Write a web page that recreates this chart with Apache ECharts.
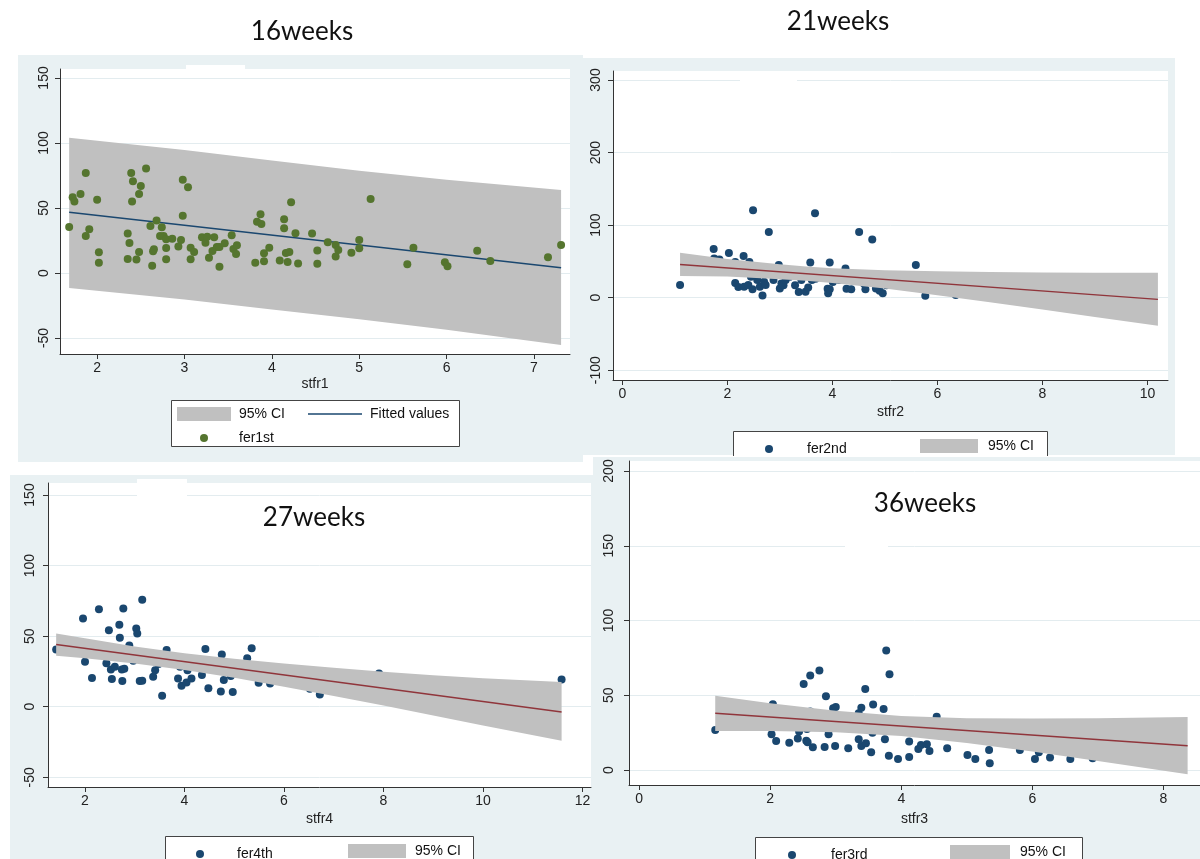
<!DOCTYPE html>
<html>
<head>
<meta charset="utf-8">
<title>fer vs stfr</title>
<script src="https://cdn.jsdelivr.net/npm/echarts@6/dist/echarts.min.js"></script>
<style>
html, body { margin: 0; padding: 0; background: #fff; }
#main { width: 1200px; height: 859px; }
</style>
</head>
<body>
<div id="main"></div>
<script>
// ---- 16 weeks : fer1st vs stfr1 ----
var stfr1 = [1.68,1.72,1.74,1.81,1.87,1.87,1.91,2.00,2.02,2.02,
  2.35,2.37,2.35,2.39,2.41,2.40,2.45,2.48,2.50,2.48,
  2.56,2.61,2.63,2.64,2.65,2.68,2.72,2.74,2.76,2.79,
  2.79,2.79,2.86,2.93,2.96,2.98,2.98,3.04,3.07,3.07,
  3.11,3.20,3.24,3.26,3.28,3.32,3.34,3.37,3.40,3.40,
  3.46,3.54,3.56,3.59,3.60,3.81,3.83,3.88,3.87,3.91,
  3.91,3.97,4.09,4.14,4.14,4.16,4.18,4.20,4.22,4.27,
  4.30,4.46,4.52,4.52,4.64,4.73,4.76,4.73,4.91,5.00,
  5.00,5.13,5.55,5.62,5.98,6.01,6.35,6.50,7.16,7.31];
var fer1st = [35.4,58.2,54.9,60.8,76.9,28.5,33.6,56.4,15.9,7.9,
  30.3,23.1,10.8,76.9,70.5,54.9,10.3,16.2,66.9,60.8,
  80.3,36.2,5.6,16.7,18.2,40.3,28.5,35.1,28.5,25.9,
  19.2,10.5,26.4,20.3,25.4,71.8,44.1,65.9,19.5,10.5,
  16.2,27.4,23.3,27.9,11.8,16.9,27.4,20.0,4.9,20.0,
  22.8,29.0,18.5,14.6,21.3,7.9,39.5,37.7,45.1,15.1,
  9.0,19.5,9.7,41.3,34.4,15.4,8.5,16.2,54.4,30.5,
  7.4,30.3,17.4,7.2,23.6,21.5,17.7,12.6,15.6,25.4,
  19.0,56.9,6.7,19.5,8.2,5.1,17.2,9.2,12.1,21.5];
var fit1X = [1.68, 7.31];
var fit1Y = [46.7, 4.1];
var ci1X  = [1.68, 3, 4, 5, 6, 7.31];
var ci1Lo = [-11.5, -20.3, -28.0, -35.6, -43.6, -55.4];
var ci1Hi = [104.1, 94.6, 86.5, 78.7, 71.8, 63.8];

// ---- 21 weeks : fer2nd vs stfr2 ----
var stfr2 = [1.10,1.74,1.75,1.85,2.03,2.15,2.21,2.15,2.31,2.32,
  2.40,2.42,2.48,2.49,2.45,2.57,2.62,2.67,2.70,2.73,
  2.79,2.88,2.98,3.00,3.03,3.07,3.11,3.29,3.36,3.41,
  3.49,3.54,3.58,3.61,3.67,3.68,3.91,3.92,3.95,3.95,
  4.01,4.13,4.25,4.27,4.36,4.51,4.60,4.63,4.76,4.83,
  4.90,4.96,5.03,5.59,5.77,6.35,2.96,3.19];
var fer2nd = [17.4,67.0,54.1,52.8,61.5,20.2,14.7,49.1,57.3,15.1,
  17.4,49.1,11.5,120.6,28.9,24.3,15.1,3.2,22.0,17.4,
  90.4,24.3,45.0,12.8,19.7,17.0,24.3,17.0,7.8,24.3,
  8.3,14.2,48.6,24.3,116.5,26.1,12.4,6.0,48.6,11.5,
  21.6,24.3,40.4,12.4,11.5,90.4,19.7,11.5,80.3,12.8,
  9.6,6.0,17.0,45.0,2.8,3.7,35.8,28.9];
var fit2X = [1.10, 10.2];
var fit2Y = [45.9, -2.3];
var ci2X  = [1.10, 2, 3, 3.5, 4, 5, 6, 7, 8, 9, 10.2];
var ci2Lo = [29.9, 29.3, 25.6, 23.3, 20.3, 12.6, 3.5, -6.2, -16.3, -26.5, -38.6];
var ci2Hi = [61.9, 53.4, 46.0, 43.1, 40.7, 37.8, 36.3, 35.4, 34.9, 34.5, 34.3];

// ---- 27 weeks : fer4th vs stfr4 ----
var stfr4 = [1.42,1.96,2.00,2.14,2.28,2.43,2.48,2.52,2.54,2.60,
  2.69,2.70,2.74,2.75,2.77,2.79,2.89,2.97,3.03,3.05,
  3.10,3.15,3.15,3.37,3.41,3.48,3.55,3.64,3.68,3.87,
  3.94,3.91,4.04,4.06,4.14,4.35,4.42,4.48,4.68,4.73,
  4.75,4.79,4.93,4.97,5.26,5.35,5.49,5.72,6.52,6.72,
  7.91,11.58];
var fer4th = [40.6,62.5,31.8,20.3,69.1,30.7,54.2,26.4,19.6,28.3,
  58.0,48.8,26.4,18.2,69.6,26.9,43.4,32.5,55.4,51.9,
  18.2,75.7,18.4,21.2,25.9,30.2,7.8,40.1,35.4,20.0,
  14.9,28.3,17.2,25.9,20.0,22.4,40.8,13.0,25.9,10.8,
  37.0,18.9,21.7,10.4,34.4,41.5,17.0,16.5,12.7,8.7,
  23.6,19.3];
var fit4X = [1.42, 11.58];
var fit4Y = [44.1, -3.8];
var ci4X  = [1.42, 2, 3, 4, 5, 6, 7, 8, 9, 10, 11.58];
var ci4Lo = [36.1, 34.3, 30.6, 26.0, 20.5, 14.2, 7.5, 0.8, -6.3, -13.3, -24.2];
var ci4Hi = [51.8, 48.5, 42.7, 37.9, 34.0, 30.6, 27.6, 24.8, 22.3, 20.2, 17.5];

// ---- 36 weeks : fer3rd vs stfr3 ----
var stfr3 = [1.16,2.04,2.02,2.09,2.29,2.42,2.44,2.47,2.51,2.55,
  2.57,2.56,2.61,2.61,2.65,2.75,2.83,2.85,2.89,2.96,
  3.00,2.99,3.19,3.35,3.35,3.39,3.39,3.45,3.46,3.54,
  3.57,3.56,3.73,3.75,3.77,3.82,3.81,3.85,3.95,4.12,
  4.12,4.26,4.30,4.39,4.43,4.54,4.70,5.01,5.13,5.34,
  5.35,5.81,6.04,6.10,6.27,6.58,6.92];
var fer3rd = [26.8,44.0,23.9,19.4,18.3,21.0,25.7,39.1,57.6,19.6,
  18.5,27.5,63.2,39.1,15.2,66.5,15.4,49.3,23.9,41.3,
  42.2,16.1,14.5,37.9,20.5,41.7,16.1,54.2,17.9,11.8,
  43.8,25.0,40.8,20.5,79.9,64.1,9.6,26.1,7.4,19.0,
  8.7,14.1,16.7,17.2,12.7,35.7,14.5,10.0,7.4,13.4,
  4.5,13.4,7.4,11.8,8.3,7.4,7.8];
var fit3X = [1.16, 8.37];
var fit3Y = [37.9, 16.3];
var ci3X  = [1.16, 2, 3, 4, 5, 6, 7, 8.37];
var ci3Lo = [26.1, 26.1, 25.2, 22.7, 18.1, 12.4, 6.1, -2.8];
var ci3Hi = [49.7, 44.7, 39.6, 36.1, 34.7, 34.4, 34.7, 35.4];

// axis ticks
var xTicks1 = [2, 3, 4, 5, 6, 7];
var yTicks1 = [-50, 0, 50, 100, 150];
var xTicks2 = [0, 2, 4, 6, 8, 10];
var yTicks2 = [-100, 0, 100, 200, 300];
var xTicks4 = [2, 4, 6, 8, 10, 12];
var yTicks4 = [-50, 0, 50, 100, 150];
var xTicks3 = [0, 2, 4, 6, 8];
var yTicks3 = [0, 50, 100, 150, 200];

var NAVY = '#1a476f', MAROON = '#90353b', GREEN = '#55752f', CIGRAY = '#c0c0c0';
var FONT = '"Liberation Sans", Arial, sans-serif';
var PANEL = '#e9f1f3';

function zip(xs, ys) {
  return xs.map(function (x, i) { return [x, ys[i]]; });
}

function xAx(idx, min, max, ticks, name, gap) {
  return {
    type: 'value', gridIndex: idx, min: min, max: max,
    name: name, nameLocation: 'middle', nameGap: gap,
    nameTextStyle: { fontSize: 14, color: '#222', fontFamily: FONT },
    axisLine: { show: true, onZero: false, lineStyle: { color: '#333', width: 1 } },
    axisTick: { show: true, length: 5, customValues: ticks, lineStyle: { color: '#333' } },
    axisLabel: { customValues: ticks, margin: 7, fontSize: 14, color: '#222', fontFamily: FONT },
    splitLine: { show: false }
  };
}

function yAx(idx, min, max, ticks, margin) {
  return {
    type: 'value', gridIndex: idx, min: min, max: max,
    axisLine: { show: true, onZero: false, lineStyle: { color: '#333', width: 1 } },
    axisTick: { show: true, length: 5, customValues: ticks, lineStyle: { color: '#333' } },
    axisLabel: { customValues: ticks, rotate: 90, margin: margin, fontSize: 14, color: '#222', fontFamily: FONT },
    splitLine: { show: true, lineStyle: { color: '#e3ecef', width: 1 } }
  };
}

function band(idx, xs, lo, hi, z) {
  return {
    name: '95% CI', type: 'custom', xAxisIndex: idx, yAxisIndex: idx, z: z, clip: true,
    data: xs.map(function (x, i) { return [x, lo[i], hi[i]]; }),
    encode: { x: 0, y: [1, 2] },
    renderItem: function (params, api) {
      if (params.dataIndex !== 0) return;
      var top = [], bot = [];
      for (var i = 0; i < xs.length; i++) {
        top.push(api.coord([xs[i], hi[i]]));
        bot.unshift(api.coord([xs[i], lo[i]]));
      }
      return { type: 'polygon', shape: { points: top.concat(bot) }, style: { fill: CIGRAY } };
    }
  };
}

function fitLine(idx, xs, ys, color, z) {
  return {
    name: 'Fitted values', type: 'line', xAxisIndex: idx, yAxisIndex: idx, z: z,
    data: zip(xs, ys), symbol: 'none', silent: true,
    itemStyle: { color: color },
    lineStyle: { color: color, width: 1.5 }
  };
}

function dots(idx, name, xs, ys, color, z) {
  return {
    name: name, type: 'scatter', xAxisIndex: idx, yAxisIndex: idx, z: z,
    data: zip(xs, ys), symbolSize: 8,
    itemStyle: { color: color, opacity: 1 }
  };
}

// one legend per key so every key can sit where Stata put it
function leg(name, icon, left, top, w, h, pad, color) {
  var item = { name: name, icon: icon };
  if (color) item.itemStyle = { color: color };
  return {
    data: [item], left: left, top: top, orient: 'horizontal',
    itemWidth: w, itemHeight: h, padding: 0, selectedMode: false,
    textStyle: { fontSize: 14, color: '#111', fontFamily: FONT, padding: [0, 0, 0, pad] }
  };
}

function title(text, x, y) {
  return { type: 'text', x: x, y: y, z: 100,
    style: { text: text, fill: '#111', font: '26px Lato, "Open Sans", sans-serif', align: 'center', verticalAlign: 'middle' } };
}

function rect(x, y, w, h, fill, z, stroke) {
  return { type: 'rect', z: z, silent: true, shape: { x: x, y: y, width: w, height: h },
    style: { fill: fill, stroke: stroke || null, lineWidth: stroke ? 1 : 0 } };
}

var LINE_ICON = 'path://M0,0H60V1.6H0Z';

var chart = echarts.init(document.getElementById('main'));

var option = {
  backgroundColor: '#ffffff',
  animation: false,
  grid: [
    { left: 60, top: 69, width: 510, height: 285, show: true, backgroundColor: '#fff', borderWidth: 0 },
    { left: 613, top: 71, width: 555, height: 309, show: true, backgroundColor: '#fff', borderWidth: 0 },
    { left: 48, top: 483, width: 543, height: 304, show: true, backgroundColor: '#fff', borderWidth: 0 },
    { left: 629, top: 461, width: 580, height: 324, show: true, backgroundColor: '#fff', borderWidth: 0 }
  ],
  xAxis: [
    xAx(0, 1.575, 7.412, xTicks1, 'stfr1', 23),
    xAx(1, -0.177, 10.392, xTicks2, 'stfr2', 25),
    xAx(2, 1.256, 12.171, xTicks4, 'stfr4', 25),
    xAx(3, -0.156, 8.559, xTicks3, 'stfr3', 27)
  ],
  yAxis: [
    yAx(0, -62.3, 156.9, yTicks1, 9),
    yAx(1, -113.4, 312.4, yTicks2, 10),
    yAx(2, -56.9, 158.5, yTicks4, 11),
    yAx(3, -10.03, 206.7, yTicks3, 13)
  ],
  legend: [
    leg('95% CI', 'rect', 177, 407, 54, 14, 3, CIGRAY),
    leg('Fitted values', LINE_ICON, 308, 407, 54, 14, 3, NAVY),
    leg('fer1st', 'circle', 200, 431, 8, 8, 26, GREEN),
    leg('fer2nd', 'circle', 765, 442, 8, 8, 29, NAVY),
    leg('95% CI', 'rect', 920, 439, 58, 14, 5, CIGRAY),
    leg('fer4th', 'circle', 196, 847, 8, 8, 28, NAVY),
    leg('95% CI', 'rect', 348, 844, 58, 14, 4, CIGRAY),
    leg('fer3rd', 'circle', 788, 848, 8, 8, 30, NAVY),
    leg('95% CI', 'rect', 950, 845, 60, 14, 5, CIGRAY)
  ],
  series: [
    band(0, ci1X, ci1Lo, ci1Hi, 2),
    fitLine(0, fit1X, fit1Y, NAVY, 3),
    dots(0, 'fer1st', stfr1, fer1st, GREEN, 4),

    dots(1, 'fer2nd', stfr2, fer2nd, NAVY, 2),
    band(1, ci2X, ci2Lo, ci2Hi, 3),
    fitLine(1, fit2X, fit2Y, MAROON, 4),

    dots(2, 'fer4th', stfr4, fer4th, NAVY, 2),
    band(2, ci4X, ci4Lo, ci4Hi, 3),
    fitLine(2, fit4X, fit4Y, MAROON, 4),

    dots(3, 'fer3rd', stfr3, fer3rd, NAVY, 2),
    band(3, ci3X, ci3Lo, ci3Hi, 3),
    fitLine(3, fit3X, fit3Y, MAROON, 4)
  ],
  graphic: [
    // panel backgrounds
    rect(18, 55, 565, 407, PANEL, -10),
    rect(570, 58, 605, 397, PANEL, -10),
    rect(10, 475, 583, 384, PANEL, -10),
    rect(593, 457, 607, 402, PANEL, -10),
    // legend frames
    rect(171.5, 400.5, 288, 46, '#fff', -5, '#444'),
    rect(733.5, 431.5, 314, 24, '#fff', -6),
    { type: 'polyline', z: -5, silent: true,
      shape: { points: [[733.5, 456], [733.5, 431.5], [1047.5, 431.5], [1047.5, 456]] },
      style: { stroke: '#444', lineWidth: 1, fill: null } },
    rect(165.5, 836.5, 308, 40, '#fff', -5, '#444'),
    rect(755.5, 837.5, 327, 40, '#fff', -5, '#444'),
    // white patches left by pasted titles
    rect(186, 65, 59, 13, '#fff', 1),
    rect(740, 75, 57, 8, '#fff', 1),
    rect(137, 479, 50, 18, '#fff', 1),
    rect(845, 543, 43, 6, '#fff', 1),
    // titles
    title('16weeks', 302, 32),
    title('21weeks', 838, 22),
    title('27weeks', 314, 518),
    title('36weeks', 925, 504)
  ]
};

chart.setOption(option);
</script>
</body>
</html>
